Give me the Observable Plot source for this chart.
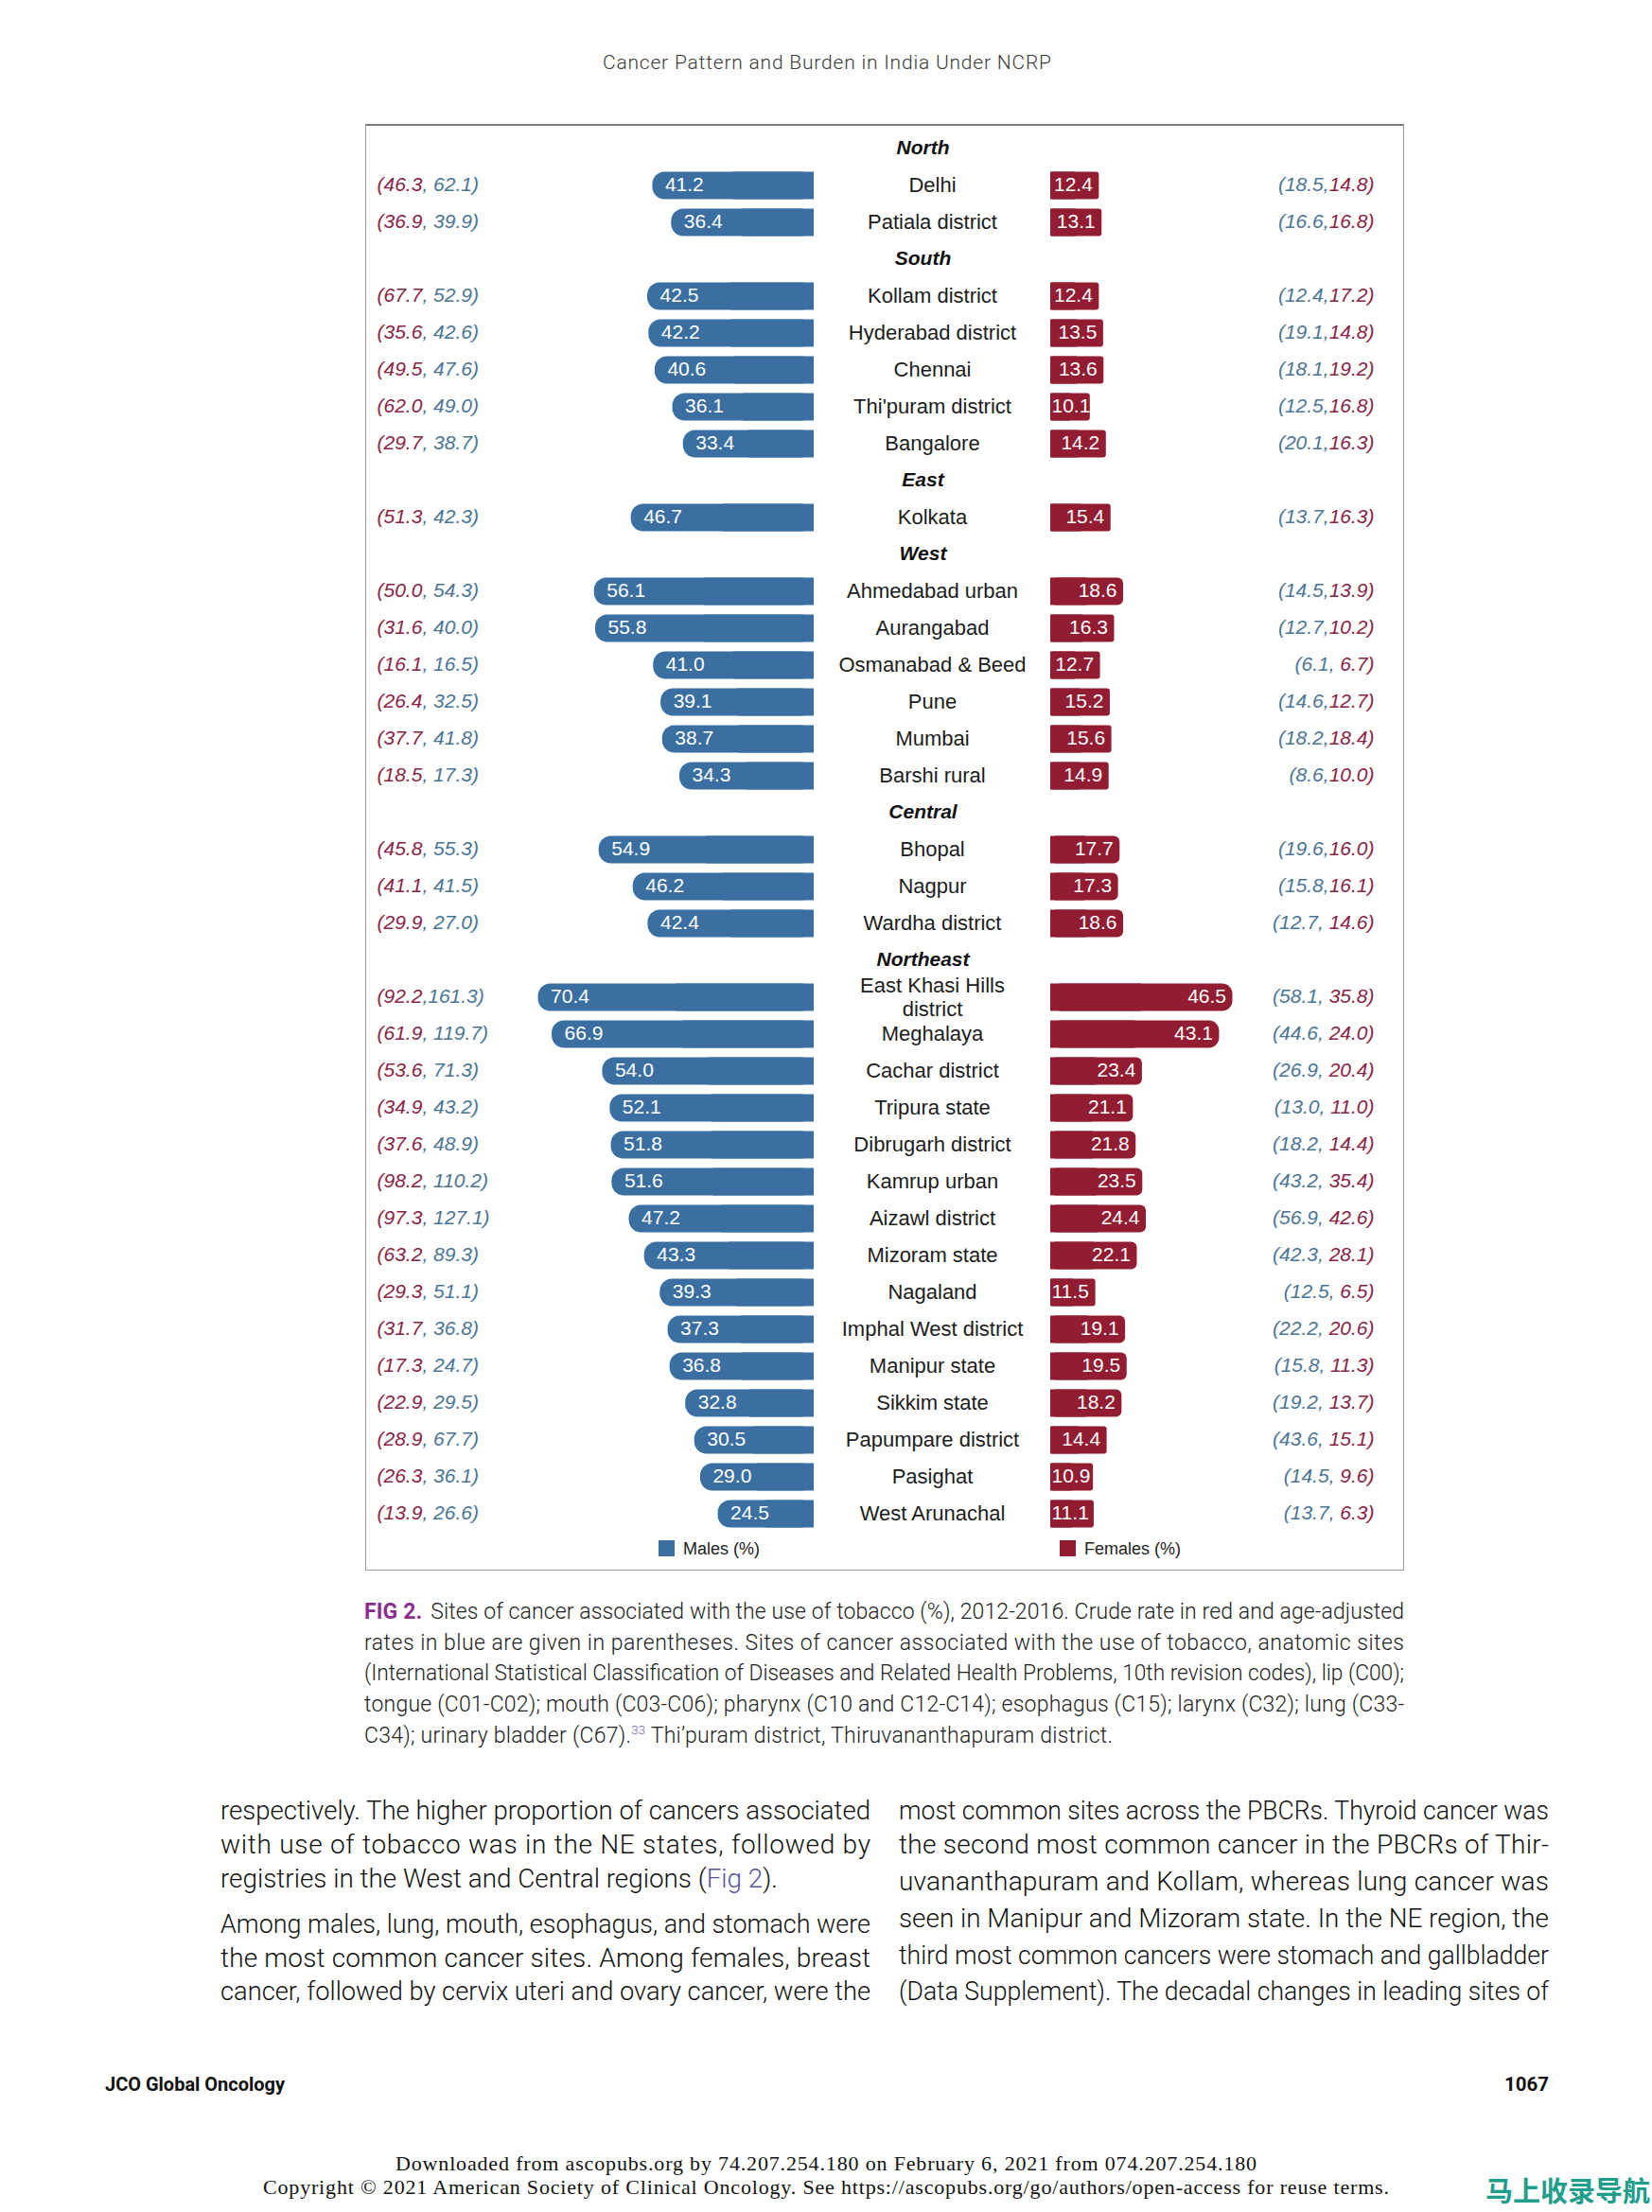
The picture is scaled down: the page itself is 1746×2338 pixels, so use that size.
<!DOCTYPE html>
<html><head><meta charset="utf-8">
<script src="https://cdn.jsdelivr.net/npm/d3@7"></script>
<script src="https://cdn.jsdelivr.net/npm/@observablehq/plot@0.6"></script>
<style>
body{margin:0;background:#fff}
#page{position:relative;width:1746px;height:2338px;overflow:hidden;background:#fff}
#deco{position:absolute;left:0;top:0}
#box{position:absolute;left:386px;top:131px;width:1098px;height:1529px;box-sizing:border-box;border:1px solid #9c9c9c;border-top:2px solid #7c7c7c;background:#fff}
#chart svg{display:block}
#legend{position:relative;height:40px;font:18px "Liberation Sans",Arial,sans-serif;color:#222}
.sw{position:absolute;top:9px;width:17px;height:17px}
.lt{position:absolute;top:0;line-height:36px}
</style></head>
<body><div id="page"><svg id="deco" width="1746" height="2338"></svg>
<div id="box"><div id="chart"></div><div id="legend"></div></div></div>
<script>
// ---------------- DATA ----------------
const regions = ["North", "South", "East", "West", "Central", "Northeast"];
const registries = ["Delhi", "Patiala district", "Kollam district", "Hyderabad district", "Chennai", "Thi'puram district", "Bangalore", "Kolkata", "Ahmedabad urban", "Aurangabad", "Osmanabad & Beed", "Pune", "Mumbai", "Barshi rural", "Bhopal", "Nagpur", "Wardha district", "East Khasi Hills\ndistrict", "Meghalaya", "Cachar district", "Tripura state", "Dibrugarh district", "Kamrup urban", "Aizawl district", "Mizoram state", "Nagaland", "Imphal West district", "Manipur state", "Sikkim state", "Papumpare district", "Pasighat", "West Arunachal"];
const regionOf = ["North", "North", "South", "South", "South", "South", "South", "East", "West", "West", "West", "West", "West", "West", "Central", "Central", "Central", "Northeast", "Northeast", "Northeast", "Northeast", "Northeast", "Northeast", "Northeast", "Northeast", "Northeast", "Northeast", "Northeast", "Northeast", "Northeast", "Northeast", "Northeast"];
const malesPct = [41.2, 36.4, 42.5, 42.2, 40.6, 36.1, 33.4, 46.7, 56.1, 55.8, 41.0, 39.1, 38.7, 34.3, 54.9, 46.2, 42.4, 70.4, 66.9, 54.0, 52.1, 51.8, 51.6, 47.2, 43.3, 39.3, 37.3, 36.8, 32.8, 30.5, 29.0, 24.5];
const femalesPct = [12.4, 13.1, 12.4, 13.5, 13.6, 10.1, 14.2, 15.4, 18.6, 16.3, 12.7, 15.2, 15.6, 14.9, 17.7, 17.3, 18.6, 46.5, 43.1, 23.4, 21.1, 21.8, 23.5, 24.4, 22.1, 11.5, 19.1, 19.5, 18.2, 14.4, 10.9, 11.1];
const maleRed = [46.3, 36.9, 67.7, 35.6, 49.5, 62.0, 29.7, 51.3, 50.0, 31.6, 16.1, 26.4, 37.7, 18.5, 45.8, 41.1, 29.9, 92.2, 61.9, 53.6, 34.9, 37.6, 98.2, 97.3, 63.2, 29.3, 31.7, 17.3, 22.9, 28.9, 26.3, 13.9];
const maleBlue = [62.1, 39.9, 52.9, 42.6, 47.6, 49.0, 38.7, 42.3, 54.3, 40.0, 16.5, 32.5, 41.8, 17.3, 55.3, 41.5, 27.0, 161.3, 119.7, 71.3, 43.2, 48.9, 110.2, 127.1, 89.3, 51.1, 36.8, 24.7, 29.5, 67.7, 36.1, 26.6];
const femaleBlue = [18.5, 16.6, 12.4, 19.1, 18.1, 12.5, 20.1, 13.7, 14.5, 12.7, 6.1, 14.6, 18.2, 8.6, 19.6, 15.8, 12.7, 58.1, 44.6, 26.9, 13.0, 18.2, 43.2, 56.9, 42.3, 12.5, 22.2, 15.8, 19.2, 43.6, 14.5, 13.7];
const femaleRed = [14.8, 16.8, 17.2, 14.8, 19.2, 16.8, 16.3, 16.3, 13.9, 10.2, 6.7, 12.7, 18.4, 10.0, 16.0, 16.1, 14.6, 35.8, 24.0, 20.4, 11.0, 14.4, 35.4, 42.6, 28.1, 6.5, 20.6, 11.3, 13.7, 15.1, 9.6, 6.3];
// how the parenthesised pairs are written (with or without a space after the comma)
const leftNoSpace = ["East Khasi Hills\ndistrict"];
const rightWithSpace = ["Osmanabad & Beed", "Wardha district"]; // plus every Northeast registry
const legendLabels = ["Males (%)", "Females (%)"];

// ---------------- STYLE ----------------
const BLUE = "#3b6fa1", RED = "#921c32";
const PRED = "#8a2346", PBLUE = "#4b7594";
const FONT = '"Liberation Sans", Arial, sans-serif';

// ---------------- ROWS ----------------
const rows = [];
let ri = 0;
for (const reg of regions) {
  rows.push({i: ri++, header: reg});
  registries.forEach((n, j) => {
    if (regionOf[j] !== reg) return;
    const sl = leftNoSpace.includes(n) ? "," : ", ";
    const sr = (reg === "Northeast" || rightWithSpace.includes(n)) ? ", " : ",";
    rows.push({
      i: ri++, name: n, m: malesPct[j], f: femalesPct[j],
      left: "(" + maleRed[j].toFixed(1) + "|" + sl + maleBlue[j].toFixed(1) + ")",
      right: "(" + femaleBlue[j].toFixed(1) + sr + "^" + femaleRed[j].toFixed(1) + ")"
    });
  });
}
const data = rows.filter(d => d.name);
const heads = rows.filter(d => d.header);

const W = 1096, H = 1486, k = 4.14, base0 = 473, baseF = 723, ROW = 39, TOP = 24, HB = 0.372;
const u = px => (px - base0) / k;
const G = (baseF - base0) / k;
const SHORT = 12.3; // female bars too short for an end-aligned label

const chart = Plot.plot({
  width: W, height: H, margin: 0,
  style: {fontFamily: FONT, background: "transparent", overflow: "visible"},
  x: {domain: [u(0), u(W)], range: [0, W], axis: null},
  y: {domain: [-TOP / ROW, (H - TOP) / ROW], range: [0, H], axis: null},
  marks: [
    // male bars (rounded outer end)
    Plot.rect(data, {x1: 0, x2: d => -d.m, y1: d => d.i - HB, y2: d => d.i + HB, fill: BLUE, rx: 13}),
    Plot.rect(data, {x1: 0, x2: d => -d.m / 2, y1: d => d.i - HB, y2: d => d.i + HB, fill: BLUE}),
    // female bars
    Plot.rect(data, {filter: d => d.f > 40, x1: G, x2: d => G + d.f, y1: d => d.i - HB, y2: d => d.i + HB, fill: RED, rx: 11}),
    Plot.rect(data, {filter: d => d.f <= 40 && d.f >= 17, x1: G, x2: d => G + d.f, y1: d => d.i - HB, y2: d => d.i + HB, fill: RED, rx: 6}),
    Plot.rect(data, {filter: d => d.f < 17, x1: G, x2: d => G + d.f, y1: d => d.i - HB, y2: d => d.i + HB, fill: RED, rx: 3}),
    Plot.rect(data, {x1: G, x2: d => G + d.f / 2, y1: d => d.i - HB, y2: d => d.i + HB, fill: RED}),
    // values inside bars
    Plot.text(data, {x: d => -d.m, y: "i", text: d => d.m.toFixed(1), textAnchor: "start", dx: 13, dy: -1.5, fill: "white", fontSize: 21}),
    Plot.text(data, {filter: d => d.f >= SHORT, x: d => G + d.f, y: "i", text: d => d.f.toFixed(1), textAnchor: "end", dx: -7, dy: -1.5, fill: "white", fontSize: 21}),
    Plot.text(data, {filter: d => d.f < SHORT, x: G, y: "i", text: d => d.f.toFixed(1), textAnchor: "start", dx: 1, dy: -1.5, fill: "white", fontSize: 21}),
    // registry names
    Plot.text(data, {x: G / 2, y: "i", text: "name", dy: -1.5, fontSize: 22, fill: "#1c1c1c", lineHeight: 1.14}),
    // region headers
    Plot.text(heads, {x: G / 2, y: "i", text: "header", dx: -10, dy: -1, fontSize: 21, fontWeight: "bold", fontStyle: "italic", fill: "#111"}),
    // parenthesised rates
    Plot.text(data, {x: u(11), y: "i", text: "left", textAnchor: "start", dy: -1.5, fontSize: 21, fontStyle: "italic", fill: PBLUE}),
    Plot.text(data, {x: u(1065), y: "i", text: "right", textAnchor: "end", dy: -1.5, fontSize: 21, fontStyle: "italic", fill: PBLUE})
  ]
});
// colour the two halves of each parenthesised pair
chart.querySelectorAll("text").forEach(el => {
  const s = el.textContent;
  let parts = null;
  if (s.includes("|")) { const [a, b] = s.split("|"); parts = [[a, PRED], [b, PBLUE]]; }
  else if (s.includes("^")) { const [a, b] = s.split("^"); parts = [[a, PBLUE], [b, PRED]]; }
  if (parts) {
    el.textContent = "";
    for (const [t, c] of parts) {
      const ts = document.createElementNS("http://www.w3.org/2000/svg", "tspan");
      ts.textContent = t; ts.setAttribute("fill", c); el.appendChild(ts);
    }
  }
});
document.getElementById("chart").appendChild(chart);

// legend
const lg = document.getElementById("legend");
[[legendLabels[0], BLUE, 309, 335], [legendLabels[1], RED, 733, 759]].forEach(([t, c, sx, tx]) => {
  const s = document.createElement("div"); s.className = "sw"; s.style.left = sx + "px"; s.style.background = c; lg.appendChild(s);
  const l = document.createElement("div"); l.className = "lt"; l.style.left = tx + "px"; l.textContent = t; lg.appendChild(l);
});

// ---------------- PAGE TEXT ----------------
const deco = d3.select("#deco");
function addLine(x, y, parts, o) {
  const t = deco.append("text").attr("x", x).attr("y", y)
    .attr("font-family", o.family).attr("font-size", o.size)
    .attr("font-weight", o.weight || 400).attr("fill", o.fill || "#222");
  if (o.anchor) t.attr("text-anchor", o.anchor);
  for (const p of parts) {
    const s = t.append("tspan").text(p.t);
    for (const [a, v] of Object.entries(p.a || {})) s.attr(a, v);
  }
  if (o.width) {
    const nat = t.node().getComputedTextLength();
    t.attr("textLength", o.width).attr("lengthAdjust", nat > o.width ? "spacingAndGlyphs" : "spacing");
  }
  return t;
}
const SANS = "Roboto, 'Liberation Sans', sans-serif";
// running head
addLine(637, 73, [{t: "Cancer Pattern and Burden in India Under NCRP"}], {family: SANS, size: 21, weight: 300, fill: "#3a3a3a", width: 474});

// caption
const PURPLE = "#8a2d8f";
const capO = {family: SANS, size: 23, weight: 300, fill: "#222"};
const capLines = [
  [{t: "FIG 2.", a: {"font-weight": 700, fill: PURPLE}}, {t: "Sites of cancer associated with the use of tobacco (%), 2012-2016. Crude rate in red and age-adjusted", a: {dx: 9}}],
  [{t: "rates in blue are given in parentheses. Sites of cancer associated with the use of tobacco, anatomic sites"}],
  [{t: "(International Statistical Classification of Diseases and Related Health Problems, 10th revision codes), lip (C00);"}],
  [{t: "tongue (C01-C02); mouth (C03-C06); pharynx (C10 and C12-C14); esophagus (C15); larynx (C32); lung (C33-"}],
  [{t: "C34); urinary bladder (C67)."}, {t: "33", a: {"font-size": 13, dy: -9, fill: "#6f63a3"}}, {t: " Thi\u2019puram district, Thiruvananthapuram district.", a: {dy: 9}}]
];
const capY = [1711, 1744, 1776, 1809, 1842];
capLines.forEach((p, i) => addLine(385, capY[i], p, {...capO, width: i < 4 ? 1099 : 791}));

// body text
const bodyO = {family: SANS, size: 28, weight: 300, fill: "#111"};
const leftCol = [
  ["respectively. The higher proportion of cancers associated", 1923, 687],
  ["with use of tobacco was in the NE states, followed by", 1959, 687],
  [null, 1995, 589],
  ["Among males, lung, mouth, esophagus, and stomach were", 2043, 687],
  ["the most common cancer sites. Among females, breast", 2079, 687],
  ["cancer, followed by cervix uteri and ovary cancer, were the", 2114, 687]
];
leftCol.forEach(([t, y, w]) => {
  const parts = t ? [{t}] : [{t: "registries in the West and Central regions ("}, {t: "Fig 2", a: {fill: "#55559f"}}, {t: ")."}];
  addLine(233, y, parts, {...bodyO, width: w});
});
const rightCol = [
  ["most common sites across the PBCRs. Thyroid cancer was", 1923],
  ["the second most common cancer in the PBCRs of Thir-", 1959],
  ["uvananthapuram and Kollam, whereas lung cancer was", 1998],
  ["seen in Manipur and Mizoram state. In the NE region, the", 2037],
  ["third most common cancers were stomach and gallbladder", 2076],
  ["(Data Supplement). The decadal changes in leading sites of", 2114]
];
rightCol.forEach(([t, y]) => addLine(950, y, [{t}], {...bodyO, width: 687}));

// footer
addLine(111, 2210, [{t: "JCO Global Oncology"}], {family: SANS, size: 21, weight: 700, fill: "#111", width: 190});
addLine(1590, 2210, [{t: "1067"}], {family: SANS, size: 21, weight: 700, fill: "#111", width: 47});
const SERIF = "'Liberation Serif', 'Times New Roman', serif";
addLine(418, 2294, [{t: "Downloaded from ascopubs.org by 74.207.254.180 on February 6, 2021 from 074.207.254.180"}], {family: SERIF, size: 22, fill: "#111", width: 910});
addLine(278, 2319, [{t: "Copyright \u00a9 2021 American Society of Clinical Oncology. See https://ascopubs.org/go/authors/open-access for reuse terms."}], {family: SERIF, size: 22, fill: "#111", width: 1190});
addLine(1570, 2327, [{t: "马上收录导航"}], {family: "'Noto Sans CJK SC', sans-serif", size: 29, weight: 700, fill: "#1f9e8c"});
</script></body></html>
